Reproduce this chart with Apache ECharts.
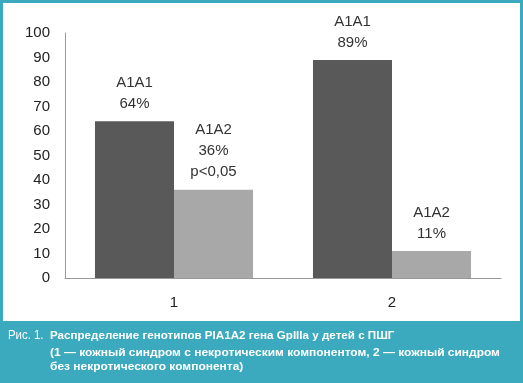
<!DOCTYPE html>
<html><head><meta charset="utf-8">
<script src="https://cdn.jsdelivr.net/npm/echarts@6/dist/echarts.min.js"></script>
<style>html,body{margin:0;padding:0;background:#fff}#c{width:523px;height:383px}</style>
</head><body><div id="c"></div>
<script>
const categories = ['1', '2'];
const seriesNames = ['A1A1', 'A1A2'];
const valuesA1A1 = [64, 89];
const valuesA1A2 = [36, 11];
const notesA1A2 = ['p<0,05', ''];
const yTicks = [0, 10, 20, 30, 40, 50, 60, 70, 80, 90, 100];
const captionPrefix = 'Рис. 1.';
const captionLines = [
  'Распределение генотипов PIA1A2 гена GpIIIa у детей с ПШГ',
  '(1 — кожный синдром с некротическим компонентом, 2 — кожный синдром',
  'без некротического компонента)'
];

const teal = '#3ba9be';
const FF = 'Liberation Sans, Arial, sans-serif';
const chart = echarts.init(document.getElementById('c'), null, {renderer: 'canvas'});
const labelStyle = {
  show: true, position: 'top', distance: 7,
  fontFamily: FF, fontSize: 15, lineHeight: 21,
  color: '#333', align: 'center'
};
const capBold = {fontFamily: FF, fontSize: 11.5, fontWeight: 'bold', fill: '#fff', verticalAlign: 'middle'};
chart.setOption({
  animation: false,
  backgroundColor: '#fff',
  grid: {left: 65, right: 22, top: 33, bottom: 105},
  xAxis: {
    type: 'category', data: categories,
    axisLine: {lineStyle: {color: '#999', width: 1}},
    axisTick: {show: false},
    axisLabel: {margin: 17, fontSize: 15, color: '#222', fontFamily: FF}
  },
  yAxis: {
    type: 'value', min: yTicks[0], max: yTicks[yTicks.length - 1], interval: 10,
    axisLine: {show: true, lineStyle: {color: '#999', width: 1}},
    axisTick: {show: false},
    splitLine: {show: false},
    axisLabel: {margin: 15, fontSize: 15, color: '#222', fontFamily: FF}
  },
  series: [
    {
      name: seriesNames[0], type: 'bar', data: valuesA1A1,
      barGap: '0%', barCategoryGap: '27.5%',
      itemStyle: {color: '#595959'},
      label: Object.assign({}, labelStyle, {formatter: p => p.seriesName + '\n' + p.value + '%'})
    },
    {
      name: seriesNames[1], type: 'bar', data: valuesA1A2,
      barGap: '0%', barCategoryGap: '27.5%',
      itemStyle: {color: '#a8a8a8'},
      label: Object.assign({}, labelStyle, {formatter: p => p.seriesName + '\n' + p.value + '%' + (notesA1A2[p.dataIndex] ? '\n' + notesA1A2[p.dataIndex] : '')})
    }
  ],
  graphic: [
    {type: 'rect', shape: {x: 1.5, y: 1.5, width: 520, height: 330}, style: {fill: 'none', stroke: teal, lineWidth: 3}, silent: true},
    {type: 'rect', shape: {x: 0, y: 321, width: 523, height: 62}, style: {fill: teal}, silent: true},
    {type: 'text', x: 8, y: 336, scaleX: 0.95, style: {text: captionPrefix, fontFamily: FF, fontSize: 12, fill: '#fff', verticalAlign: 'middle'}},
    {type: 'text', x: 50, y: 336, scaleX: 1.01, style: Object.assign({text: captionLines[0]}, capBold)},
    {type: 'text', x: 50, y: 352.5, scaleX: 1.04, style: Object.assign({text: captionLines[1]}, capBold)},
    {type: 'text', x: 50, y: 367, scaleX: 1.04, style: Object.assign({text: captionLines[2]}, capBold)}
  ]
});
</script></body></html>
